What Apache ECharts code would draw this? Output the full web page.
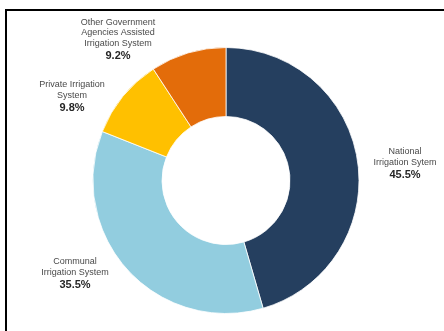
<!DOCTYPE html>
<html><head><meta charset="utf-8">
<script src="https://cdn.jsdelivr.net/npm/echarts@6/dist/echarts.min.js"></script>
<style>html,body{margin:0;padding:0;background:#fff}#c{width:444px;height:331px}</style>
</head><body><div id="c"></div>
<script>
const categories = ['National\nIrrigation Sytem', 'Communal\nIrrigation System', 'Private Irrigation\nSystem', 'Other Government\nAgencies Assisted\nIrrigation System'];
const values = [45.5, 35.5, 9.8, 9.2];
const colors = ['#253f5f', '#92cddf', '#ffc000', '#e36c0a'];
const labelSpots = [[405, 164], [75, 274], [72, 97], [118, 40]];

const chart = echarts.init(document.getElementById('c'), null, {renderer: 'canvas'});
chart.setOption({
  animation: false,
  graphic: [{type: 'rect', shape: {x: 6, y: 10, width: 460, height: 340}, style: {fill: 'none', stroke: '#000', lineWidth: 2}}],
  series: [{
    type: 'pie',
    center: [226, 180.5],
    radius: [64, 133],
    startAngle: 90,
    clockwise: true,
    itemStyle: {borderColor: '#fff', borderWidth: 0.8},
    labelLine: {show: false},
    label: {
      show: true,
      position: 'outside',
      overflow: 'none',
      width: 200,
      formatter: p => p.name + '\n{b|' + p.value.toFixed(1) + '%}',
      fontFamily: 'Liberation Sans, Arial, sans-serif',
      fontSize: 9,
      lineHeight: 10.5,
      color: '#4a4a4a',
      align: 'center',
      rich: {b: {fontSize: 11, fontWeight: 'bold', color: '#262626', lineHeight: 14, fontFamily: 'Liberation Sans, Arial, sans-serif'}}
    },
    labelLayout: p => ({x: labelSpots[p.dataIndex][0], y: labelSpots[p.dataIndex][1], align: 'center', verticalAlign: 'middle', width: 200}),
    data: categories.map((n, i) => ({name: n, value: values[i], itemStyle: {color: colors[i]}}))
  }]
});
</script></body></html>
